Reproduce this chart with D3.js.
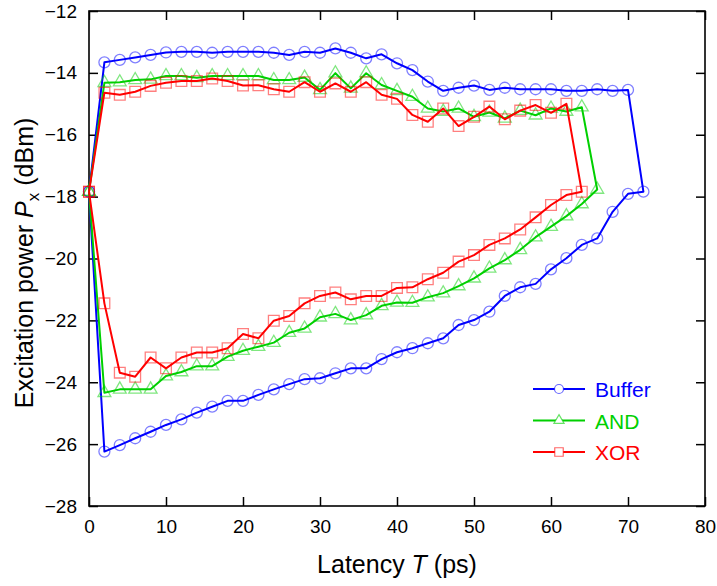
<!DOCTYPE html>
<html lang="en">
<head>
    <meta charset="UTF-8">
    <title>Excitation power vs latency</title>
    <style>
        body {
            margin: 0;
            background: #fff;
            font-family: "Liberation Sans", Arial, sans-serif;
        }
        svg {
            display: block;
        }
    </style>
    <script src="https://d3js.org/d3.v7.min.js"></script>
</head>
<body>
<script>
    // loop data: start at T=0, upper branch, drop, lower branch back to T=0
    const bufferX = [0, 2, 4, 6, 8, 10, 12, 14, 16, 18, 20, 22, 24, 26, 28, 30, 32, 34, 36, 38, 40,
        42, 44, 46, 48, 50, 52, 54, 56, 58, 60, 62, 64, 66, 68, 70, 72,
        70, 68, 66, 64, 62, 60, 58, 56, 54, 52, 50, 48, 46, 44, 42, 40, 38, 36, 34, 32, 30,
        28, 26, 24, 22, 20, 18, 16, 14, 12, 10, 8, 6, 4, 2, 0]
    const bufferY = [-17.84, -13.66, -13.58, -13.50, -13.42, -13.34, -13.32, -13.32, -13.35, -13.32, -13.32,
        -13.32, -13.35, -13.42, -13.32, -13.35, -13.21, -13.35, -13.53, -13.40, -13.69,
        -13.91, -14.28, -14.58, -14.48, -14.41, -14.55, -14.48, -14.53, -14.53, -14.53,
        -14.58, -14.58, -14.53, -14.58, -14.55, -17.84,
        -17.91, -18.49, -19.35, -19.56, -19.99, -20.35, -20.82, -20.93, -21.21, -21.72,
        -21.99, -22.15, -22.58, -22.74, -22.90, -23.03, -23.25, -23.55, -23.55, -23.71,
        -23.87, -23.90, -24.06, -24.23, -24.41, -24.60, -24.60, -24.79, -24.98, -25.20,
        -25.38, -25.60, -25.81, -26.03, -26.24, -17.84]

    const andX = [0, 2, 4, 6, 8, 10, 12, 14, 16, 18, 20, 22, 24, 26, 28, 30, 32, 34, 36, 38, 40,
        42, 44, 46, 48, 50, 52, 54, 56, 58, 60, 62, 64, 66,
        64, 62, 60, 58, 56, 54, 52, 50, 48, 46, 44, 42, 40, 38, 36, 34, 32, 30,
        28, 26, 24, 22, 20, 18, 16, 14, 12, 10, 8, 6, 4, 2, 0]
    const andY = [-17.84, -14.32, -14.30, -14.23, -14.21, -14.10, -14.10, -14.16, -14.10, -14.10, -14.10,
        -14.10, -14.23, -14.23, -14.15, -14.55, -14.01, -14.50, -14.01, -14.39, -14.58,
        -14.77, -15.15, -15.25, -15.15, -15.42, -15.28, -15.47, -15.22, -15.37, -15.15,
        -15.25, -15.11, -17.77,
        -18.24, -18.63, -18.97, -19.31, -19.72, -20.05, -20.32, -20.64, -20.89, -21.12,
        -21.25, -21.43, -21.42, -21.53, -21.83, -21.99, -21.79, -21.90, -22.26, -22.40,
        -22.72, -22.85, -22.98, -23.17, -23.48, -23.48, -23.67, -23.80, -24.23, -24.23,
        -24.23, -24.34, -17.84]

    const xorX = [0, 2, 4, 6, 8, 10, 12, 14, 16, 18, 20, 22, 24, 26, 28, 30, 32, 34, 36, 38, 40,
        42, 44, 46, 48, 50, 52, 54, 56, 58, 60, 62, 64,
        62, 60, 58, 56, 54, 52, 50, 48, 46, 44, 42, 40, 38, 36, 34, 32, 30,
        28, 26, 24, 22, 20, 18, 16, 14, 12, 10, 8, 6, 4, 2, 0]
    const xorY = [-17.84, -14.64, -14.71, -14.61, -14.42, -14.32, -14.26, -14.26, -14.18, -14.26, -14.41,
        -14.40, -14.53, -14.61, -14.30, -14.61, -14.34, -14.61, -14.30, -14.71, -14.84,
        -15.36, -15.58, -15.15, -15.72, -15.42, -15.09, -15.50, -15.22, -15.04, -15.29,
        -15.00, -17.84,
        -17.95, -18.27, -18.67, -19.06, -19.35, -19.56, -19.89, -20.10, -20.46, -20.67,
        -20.93, -20.95, -21.21, -21.21, -21.32, -21.10, -21.21, -21.45, -21.86, -22.01,
        -22.58, -22.44, -22.90, -23.04, -23.04, -23.20, -23.55, -23.20, -23.82, -23.69,
        -21.45, -17.84]

    const seriesNames = ["Buffer", "AND", "XOR"]
    const seriesColors = ["#0000ff", "#00d000", "#ff0000"]
    const xTicks = [0, 10, 20, 30, 40, 50, 60, 70, 80]
    const yTicks = [-28, -26, -24, -22, -20, -18, -16, -14, -12]

    const W = 717, H = 586
    const mLeft = 89, mRight = 705, mTop = 11, mBottom = 506

    const svg = d3.select("body").append("svg")
        .attr("width", W).attr("height", H)

    const x = d3.scaleLinear().domain([0, 80]).range([mLeft, mRight])
    const y = d3.scaleLinear().domain([-28, -12]).range([mBottom, mTop])

    const series = [
        {name: seriesNames[0], color: seriesColors[0], shape: "circle",
            pts: bufferX.map((d, i) => [d, bufferY[i]])},
        {name: seriesNames[1], color: seriesColors[1], shape: "triangle",
            pts: andX.map((d, i) => [d, andY[i]])},
        {name: seriesNames[2], color: seriesColors[2], shape: "square",
            pts: xorX.map((d, i) => [d, xorY[i]])}
    ]

    // axes with inward ticks on all four sides
    const tickLen = 9
    svg.append("g").attr("transform", `translate(0,${mBottom})`)
        .call(d3.axisBottom(x).tickValues(xTicks).tickSizeInner(-tickLen).tickSizeOuter(0).tickPadding(14))
    svg.append("g").attr("transform", `translate(0,${mTop})`)
        .call(d3.axisTop(x).tickValues(xTicks).tickSizeInner(-tickLen).tickSizeOuter(0).tickFormat(""))
    svg.append("g").attr("transform", `translate(${mLeft},0)`)
        .call(d3.axisLeft(y).tickValues(yTicks).tickSizeInner(-tickLen).tickSizeOuter(0).tickPadding(12))
    svg.append("g").attr("transform", `translate(${mRight},0)`)
        .call(d3.axisRight(y).tickValues(yTicks).tickSizeInner(-tickLen).tickSizeOuter(0).tickFormat(""))

    svg.selectAll(".domain").remove()
    svg.selectAll(".tick line").attr("stroke", "#000").attr("stroke-width", 1.5)
    svg.selectAll(".tick text")
        .attr("fill", "#000")
        .style("font-family", "'Liberation Sans', Arial, sans-serif")
        .style("font-size", "19px")

    svg.append("rect")
        .attr("x", mLeft).attr("y", mTop)
        .attr("width", mRight - mLeft).attr("height", mBottom - mTop)
        .attr("fill", "none").attr("stroke", "#000").attr("stroke-width", 1.6)

    const line = d3.line().x(d => x(d[0])).y(d => y(d[1]))

    const symbolFor = {
        circle: d3.symbol().type(d3.symbolCircle).size(Math.PI * 5.5 * 5.5),
        triangle: d3.symbol().type(d3.symbolTriangle).size(72),
        square: d3.symbol().type(d3.symbolSquare).size(115)
    }
    const legendSymbol = {
        circle: d3.symbol().type(d3.symbolCircle).size(Math.PI * 4.5 * 4.5),
        triangle: d3.symbol().type(d3.symbolTriangle).size(45),
        square: d3.symbol().type(d3.symbolSquare).size(72)
    }

    const plot = svg.append("g")
    series.forEach(s => {
        plot.append("path")
            .datum(s.pts)
            .attr("d", line)
            .attr("fill", "none")
            .attr("stroke", s.color)
            .attr("stroke-width", 2)
            .attr("stroke-linejoin", "round")

        plot.append("g").selectAll("path")
            .data(s.pts)
            .enter()
            .append("path")
            .attr("d", symbolFor[s.shape])
            .attr("transform", d => `translate(${x(d[0])},${y(d[1])})`)
            .attr("fill", "none")
            .attr("stroke", s.color)
            .attr("stroke-opacity", 0.5)
            .attr("stroke-width", 1.3)
    })

    // legend
    const legend = svg.append("g").attr("transform", "translate(533,389)")
    series.forEach((s, i) => {
        const g = legend.append("g").attr("transform", `translate(0,${i * 31.5})`)
        g.append("line")
            .attr("x1", 0).attr("x2", 52)
            .attr("stroke", s.color).attr("stroke-width", 2)
        g.append("path")
            .attr("d", legendSymbol[s.shape])
            .attr("transform", "translate(26,0)")
            .attr("fill", "#fff")
            .attr("stroke", s.color)
            .attr("stroke-opacity", 0.6)
            .attr("stroke-width", 1.2)
        g.append("text")
            .attr("x", 62).attr("y", 8)
            .attr("fill", s.color)
            .style("font-size", "21px")
            .text(s.name)
    })

    // axis titles
    const xt = svg.append("text")
        .attr("x", (mLeft + mRight) / 2).attr("y", 573)
        .attr("text-anchor", "middle")
        .style("font-size", "25px")
    xt.append("tspan").text("Latency ")
    xt.append("tspan").style("font-style", "italic").text("T")
    xt.append("tspan").text(" (ps)")

    const yt = svg.append("text")
        .attr("transform", "translate(33,263) rotate(-90)")
        .attr("text-anchor", "middle")
        .style("font-size", "25px")
    yt.append("tspan").text("Excitation power ")
    yt.append("tspan").style("font-style", "italic").text("P")
    yt.append("tspan").attr("dy", 6).style("font-size", "17px").text("x")
    yt.append("tspan").attr("dy", -6).text(" (dBm)")
</script>
</body>
</html>
